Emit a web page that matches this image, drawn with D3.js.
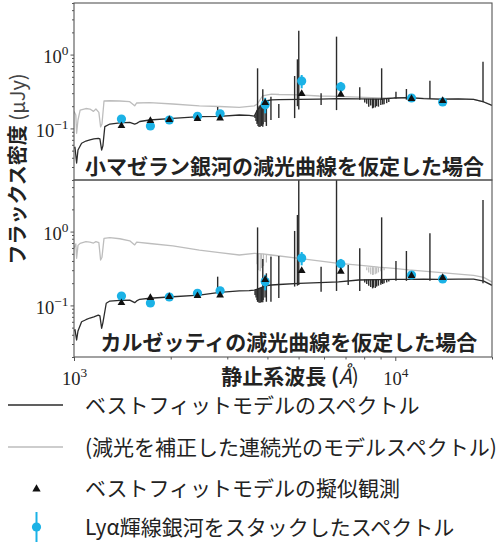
<!DOCTYPE html>
<html>
<head>
<meta charset="utf-8">
<script src="https://cdn.jsdelivr.net/npm/d3@7"></script>
<style>
  body { margin: 0; background: #fff; }
  svg { display: block; }
</style>
</head>
<body>
<svg id="chart" width="496" height="545"></svg>
<script>
// ---------- data ----------
// rest-frame band centres (Å) of the stacked photometry
const bandWave = [1405, 1729, 1980, 2423, 2849, 3936, 5113, 6768, 11233, 14044];
// stacked LAE photometry (μJy) and its errors
const stackFlux = [0.134, 0.108, 0.130, 0.146, 0.158, 0.210, 0.439, 0.366, 0.258, 0.228];
const stackErr  = [0.005, 0.005, 0.005, 0.006, 0.008, 0.050, 0.090, 0.060, 0.010, 0.012];
// synthetic photometry of the best-fit model
const modelPhot = [0.111, 0.130, 0.134, 0.138, 0.141, 0.228, 0.302, 0.295, 0.258, 0.243];

// best-fit continuum, SMC extinction [wavelength Å, flux μJy]
const smcModel = [
  [1000,0.054],[1007,0.0555],[1019,0.034],[1029,0.051],[1056,0.063],[1089,0.0675],[1121,0.070],
  [1153,0.072],[1190,0.0735],[1204,0.072],[1219,0.051],[1230,0.058],[1247,0.1055],[1293,0.1146],
  [1389,0.119],[1491,0.121],[1545,0.1146],[1567,0.117],[1602,0.124],[1720,0.130],[2031,0.137],
  [2456,0.144],[2838,0.146],[3270,0.152],[3510,0.150],[3640,0.147],[3720,0.177],[3861,0.214],
  [3990,0.237],[4116,0.243],[4348,0.245],[5016,0.248],[5798,0.250],[6659,0.254],[7690,0.252],
  [8870,0.250],[9890,0.258],[11000,0.261],[12245,0.254],[13630,0.250],[15740,0.252],
  [17530,0.247],[18850,0.228],[20000,0.205]
];
// best-fit continuum, Calzetti extinction
const calzModel = [
  [1000,0.045],[1007,0.047],[1019,0.034],[1029,0.045],[1056,0.060],[1089,0.064],[1121,0.0675],
  [1153,0.070],[1190,0.074],[1204,0.072],[1219,0.049],[1230,0.058],[1260,0.107],[1293,0.1146],
  [1389,0.117],[1491,0.118],[1545,0.109],[1567,0.115],[1602,0.121],[1720,0.125],[2031,0.131],
  [2456,0.138],[2838,0.150],[3270,0.157],[3510,0.159],[3640,0.161],[3720,0.166],[3861,0.177],
  [3990,0.186],[4116,0.189],[4348,0.192],[5016,0.199],[5798,0.204],[6659,0.209],[7690,0.221],
  [8870,0.224],[9890,0.225],[11000,0.225],[12245,0.227],[13630,0.225],[15740,0.227],
  [17530,0.227],[18850,0.213],[20000,0.187]
];
// extinction-corrected stellar continuum (grey), SMC case
const smcIntrinsic = [
  [1000,0.170],[1013,0.152],[1019,0.086],[1029,0.130],[1045,0.177],[1089,0.186],[1121,0.183],
  [1150,0.170],[1170,0.183],[1195,0.165],[1210,0.105],[1222,0.1146],[1240,0.235],[1293,0.237],
  [1389,0.235],[1491,0.230],[1545,0.202],[1567,0.221],[1720,0.223],[2031,0.214],[2456,0.202],
  [2838,0.198],[3270,0.193],[3640,0.202],[3720,0.214],[3861,0.275],[4116,0.292],[4348,0.288],
  [5016,0.285],[5798,0.275],[6659,0.272],[7690,0.266],[8870,0.258],[9890,0.260],[11000,0.262],
  [13630,0.252],[17530,0.248],[18850,0.229],[20000,0.206]
];
// extinction-corrected stellar continuum (grey), Calzetti case
const calzIntrinsic = [
  [1000,0.600],[1013,0.680],[1019,0.435],[1029,0.650],[1045,0.693],[1089,0.730],[1121,0.720],
  [1150,0.700],[1170,0.730],[1195,0.710],[1210,0.412],[1222,0.450],[1240,0.811],[1293,0.826],
  [1389,0.800],[1491,0.750],[1545,0.660],[1567,0.720],[1720,0.690],[2031,0.640],[2456,0.562],
  [2838,0.520],[3270,0.482],[3640,0.508],[3861,0.500],[4116,0.482],[5016,0.435],[6659,0.371],
  [7690,0.352],[8870,0.330],[9890,0.318],[11000,0.302],[13630,0.281],[15740,0.266],
  [17530,0.255],[18850,0.240],[20000,0.207]
];

// nebular lines / absorption features drawn as vertical strokes [λ, low, high]
const smcLines = [
  [2800,0.146,0.195],[3727,0.120,0.652],[3869,0.1055,0.339],[3970,0.108,0.240],[4102,0.130,0.268],
  [4340,0.138,0.214],[4861,0.138,0.513],[4959,0.200,0.863],[5007,0.180,2.11],[5876,0.207,0.299],
  [6563,0.177,1.75],[7751,0.245,0.360],[9069,0.243,0.652],[10049,0.255,0.314],[10830,0.245,0.342],
  [12818,0.250,0.443],[18751,0.228,0.800],
  [3660,0.138,0.150],[3686,0.126,0.160],[3713,0.115,0.175],[3740,0.108,0.190],[3767,0.1045,0.200],
  [3798,0.105,0.208],[3835,0.108,0.214],[3877,0.114,0.222],[3932,0.122,0.233],
  [8034,0.225,0.252],[8150,0.215,0.252],[8267,0.197,0.252],[8386,0.205,0.252],[8498,0.187,0.252],
  [8542,0.190,0.252],[8662,0.192,0.252],[8750,0.200,0.252],[8863,0.197,0.252],[9015,0.207,0.252],
  [9138,0.210,0.252],[9229,0.213,0.252],[9403,0.220,0.255],[9546,0.228,0.255]
];
const calzLines = [
  [2800,0.150,0.245],[3727,0.112,1.14],[3869,0.110,0.426],[3970,0.112,0.272],[4102,0.112,0.457],
  [4340,0.126,0.467],[4861,0.180,1.02],[4959,0.185,1.68],[5007,0.189,8.0],[5876,0.153,0.334],
  [6563,0.157,8.0],[7136,0.189,0.352],[7751,0.157,0.594],[9069,0.200,1.56],[10049,0.215,0.399],
  [10830,0.215,0.546],[12818,0.215,0.948],[18751,0.200,2.68],
  [3660,0.138,0.161],[3686,0.128,0.163],[3713,0.118,0.166],[3740,0.112,0.168],[3767,0.109,0.170],
  [3798,0.109,0.172],[3835,0.110,0.175],[3877,0.118,0.178],[3932,0.128,0.183],
  [8034,0.205,0.224],[8150,0.195,0.224],[8267,0.185,0.224],[8386,0.178,0.224],[8498,0.170,0.224],
  [8542,0.175,0.224],[8662,0.172,0.224],[8750,0.180,0.224],[8863,0.185,0.224],[9015,0.190,0.225],
  [9138,0.195,0.225],[9229,0.200,0.225],[9403,0.205,0.225],[9546,0.210,0.225]
];
const calzIntrinsicDips = [
  [3713,0.360,0.50],[3750,0.300,0.50],[3798,0.290,0.50],[3835,0.320,0.50],[3889,0.340,0.50],
  [3970,0.380,0.49],[4102,0.420,0.485],
  [8150,0.300,0.33],[8267,0.280,0.33],[8386,0.265,0.33],[8498,0.258,0.33],[8542,0.260,0.33],
  [8662,0.265,0.33],[8750,0.270,0.33],[8863,0.280,0.33],[9015,0.290,0.33],[9229,0.300,0.325]
];

const panelLabels = ["小マゼラン銀河の減光曲線を仮定した場合", "カルゼッティの減光曲線を仮定した場合"];
const xMajor = [1000, 10000];
const xMinor = [2000, 3000, 4000, 5000, 6000, 7000, 8000, 9000, 20000];
const yMajor = [0.1, 1];
const yMinor = [0.02,0.03,0.04,0.05,0.06,0.07,0.08,0.09,0.2,0.3,0.4,0.5,0.6,0.7,0.8,0.9,2,3,4,5];
const legendItems = [
  "ベストフィットモデルのスペクトル",
  "(減光を補正した連続光のモデルスペクトル)",
  "ベストフィットモデルの擬似観測",
  "Lyα輝線銀河をスタックしたスペクトル"
];

// ---------- drawing ----------
const FONT = "'Noto Sans CJK JP', 'Noto Sans', sans-serif";
const SERIF = "'Liberation Serif', 'DejaVu Serif', serif";
const BLUE = "#1bb2e6", DARK = "#2b2b2b", GREY = "#bdbdbd", INK = "#222";
const svg = d3.select("#chart");
const left = 74, right = 492;

const x = d3.scaleLog().domain([1000, 20000]).range([left, right]);

const panels = [
  { top: 3, bottom: 180, model: smcModel, intrinsic: smcIntrinsic, lines: smcLines, dips: [], label: panelLabels[0], lx: 85, ly: 173.5 },
  { top: 180, bottom: 357, model: calzModel, intrinsic: calzIntrinsic, lines: calzLines, dips: calzIntrinsicDips, label: panelLabels[1], lx: 100.5, ly: 350 }
];

function supLabel(sel, base, exp) {
  sel.text(base);
  sel.append("tspan").attr("dy", "-0.62em").attr("font-size", "0.72em").text(exp);
}
function expOf(v) {
  const e = Math.round(Math.log10(v));
  return e < 0 ? "\u2212" + (-e) : String(e);
}

panels.forEach((p, i) => {
  const y = d3.scaleLog().domain([0.02, 5]).range([p.bottom, p.top]);
  const g = svg.append("g");
  const clipId = "clip" + i;
  svg.append("clipPath").attr("id", clipId).append("rect")
    .attr("x", left).attr("y", p.top).attr("width", right - left).attr("height", p.bottom - p.top);

  const plot = g.append("g").attr("clip-path", `url(#${clipId})`);
  const line = d3.line().x(d => x(d[0])).y(d => y(d[1]));

  // grey intrinsic continuum
  plot.append("path").datum(p.intrinsic).attr("d", line)
    .attr("fill", "none").attr("stroke", GREY).attr("stroke-width", 1.3).attr("stroke-linejoin", "round");
  plot.selectAll("line.dip").data(p.dips).enter().append("line")
    .attr("x1", d => x(d[0])).attr("x2", d => x(d[0]))
    .attr("y1", d => y(d[1])).attr("y2", d => y(d[2]))
    .attr("stroke", GREY).attr("stroke-width", 1.2);

  // best-fit model spectrum
  plot.append("path").datum(p.model).attr("d", line)
    .attr("fill", "none").attr("stroke", DARK).attr("stroke-width", 1.3).attr("stroke-linejoin", "round");
  plot.selectAll("line.em").data(p.lines).enter().append("line")
    .attr("x1", d => x(d[0])).attr("x2", d => x(d[0]))
    .attr("y1", d => y(d[1])).attr("y2", d => y(d[2]))
    .attr("stroke", DARK).attr("stroke-width", 1.4);

  // stacked photometry with error bars
  const obs = bandWave.map((w, k) => ({ w, f: stackFlux[k], e: stackErr[k], m: modelPhot[k] }));
  plot.selectAll("line.err").data(obs).enter().append("line")
    .attr("x1", d => x(d.w)).attr("x2", d => x(d.w))
    .attr("y1", d => y(d.f - d.e)).attr("y2", d => y(d.f + d.e))
    .attr("stroke", BLUE).attr("stroke-width", 2);
  plot.selectAll("circle.obs").data(obs).enter().append("circle")
    .attr("cx", d => x(d.w)).attr("cy", d => y(d.f)).attr("r", 4.6).attr("fill", BLUE);
  // model synthetic photometry
  plot.selectAll("path.tri").data(obs).enter().append("path")
    .attr("d", d3.symbol(d3.symbolTriangle, 26))
    .attr("transform", d => `translate(${x(d.w)},${y(d.m) + 0.8})`)
    .attr("fill", "#111");

  // y axis
  const ya = g.append("g").attr("transform", `translate(${left},0)`);
  ya.call(d3.axisLeft(y).tickValues(yMinor).tickSize(2).tickFormat(""));
  const yb = g.append("g").attr("transform", `translate(${left},0)`);
  yb.call(d3.axisLeft(y).tickValues(yMajor).tickSize(3.5).tickPadding(2).tickFormat(""));
  [ya, yb].forEach(a => { a.select(".domain").remove(); a.selectAll("line").attr("stroke", "#555"); });
  yb.selectAll(".tick text").each(function (d) { supLabel(d3.select(this), "10", expOf(d)); })
    .attr("font-family", SERIF).attr("font-size", 18.5).attr("fill", INK).attr("dy", "0.45em");

  // frame
  g.append("rect").attr("x", left).attr("y", p.top).attr("width", right - left).attr("height", p.bottom - p.top)
    .attr("fill", "none").attr("stroke", "#555").attr("stroke-width", 1.1);

  // panel caption
  g.append("text").attr("x", p.lx).attr("y", p.ly).text(p.label)
    .attr("font-family", FONT).attr("font-weight", 700).attr("font-size", 21).attr("fill", INK);
});

// x axis (bottom panel)
const xMin = svg.append("g").attr("transform", "translate(0,357)")
  .call(d3.axisBottom(x).tickValues(xMinor).tickSize(2.5).tickFormat(""));
const xMaj = svg.append("g").attr("transform", "translate(0,357)")
  .call(d3.axisBottom(x).tickValues(xMajor).tickSize(4).tickPadding(11).tickFormat(""));
[xMin, xMaj].forEach(a => { a.select(".domain").remove(); a.selectAll("line").attr("stroke", "#555"); });
xMaj.selectAll(".tick text").each(function (d) { supLabel(d3.select(this), "10", expOf(d)); })
  .attr("font-family", SERIF).attr("font-size", 18.5).attr("fill", INK);

// axis titles
const xt = svg.append("text").attr("x", 290).attr("y", 384).attr("text-anchor", "middle")
  .attr("font-family", FONT).attr("font-size", 21).attr("font-weight", 700).attr("fill", INK);
xt.append("tspan").text("静止系波長 (");
xt.append("tspan").attr("font-style", "italic").attr("font-weight", 400).text("Å");
xt.append("tspan").attr("font-weight", 400).text(")");

const yt = svg.append("text").attr("transform", "translate(16,169) rotate(-90)").attr("text-anchor", "middle")
  .attr("dominant-baseline", "central")
  .attr("font-family", FONT).attr("font-size", 20).attr("fill", INK);
yt.append("tspan").attr("font-weight", 700).text("フラックス密度 ");
yt.append("tspan").attr("font-weight", 400).attr("fill", "#444").text("(μJy)");

// legend
const legY = [405, 447, 488, 527];
const leg = svg.append("g");
leg.append("line").attr("x1", 8).attr("x2", 63).attr("y1", legY[0]).attr("y2", legY[0])
  .attr("stroke", DARK).attr("stroke-width", 1.6);
leg.append("line").attr("x1", 8).attr("x2", 63).attr("y1", legY[1]).attr("y2", legY[1])
  .attr("stroke", GREY).attr("stroke-width", 1.6);
leg.append("path").attr("d", d3.symbol(d3.symbolTriangle, 30))
  .attr("transform", `translate(36.5,${legY[2] + 1})`).attr("fill", "#111");
leg.append("line").attr("x1", 36.5).attr("x2", 36.5).attr("y1", legY[3] - 15).attr("y2", legY[3] + 15)
  .attr("stroke", BLUE).attr("stroke-width", 2);
leg.append("circle").attr("cx", 36.5).attr("cy", legY[3]).attr("r", 4.6).attr("fill", BLUE);
leg.selectAll("text").data(legendItems).enter().append("text")
  .attr("x", 85).attr("y", (d, k) => legY[k]).attr("dy", "0.36em")
  .attr("font-family", FONT).attr("font-size", 21).attr("fill", INK).text(d => d);
</script>
</body>
</html>
